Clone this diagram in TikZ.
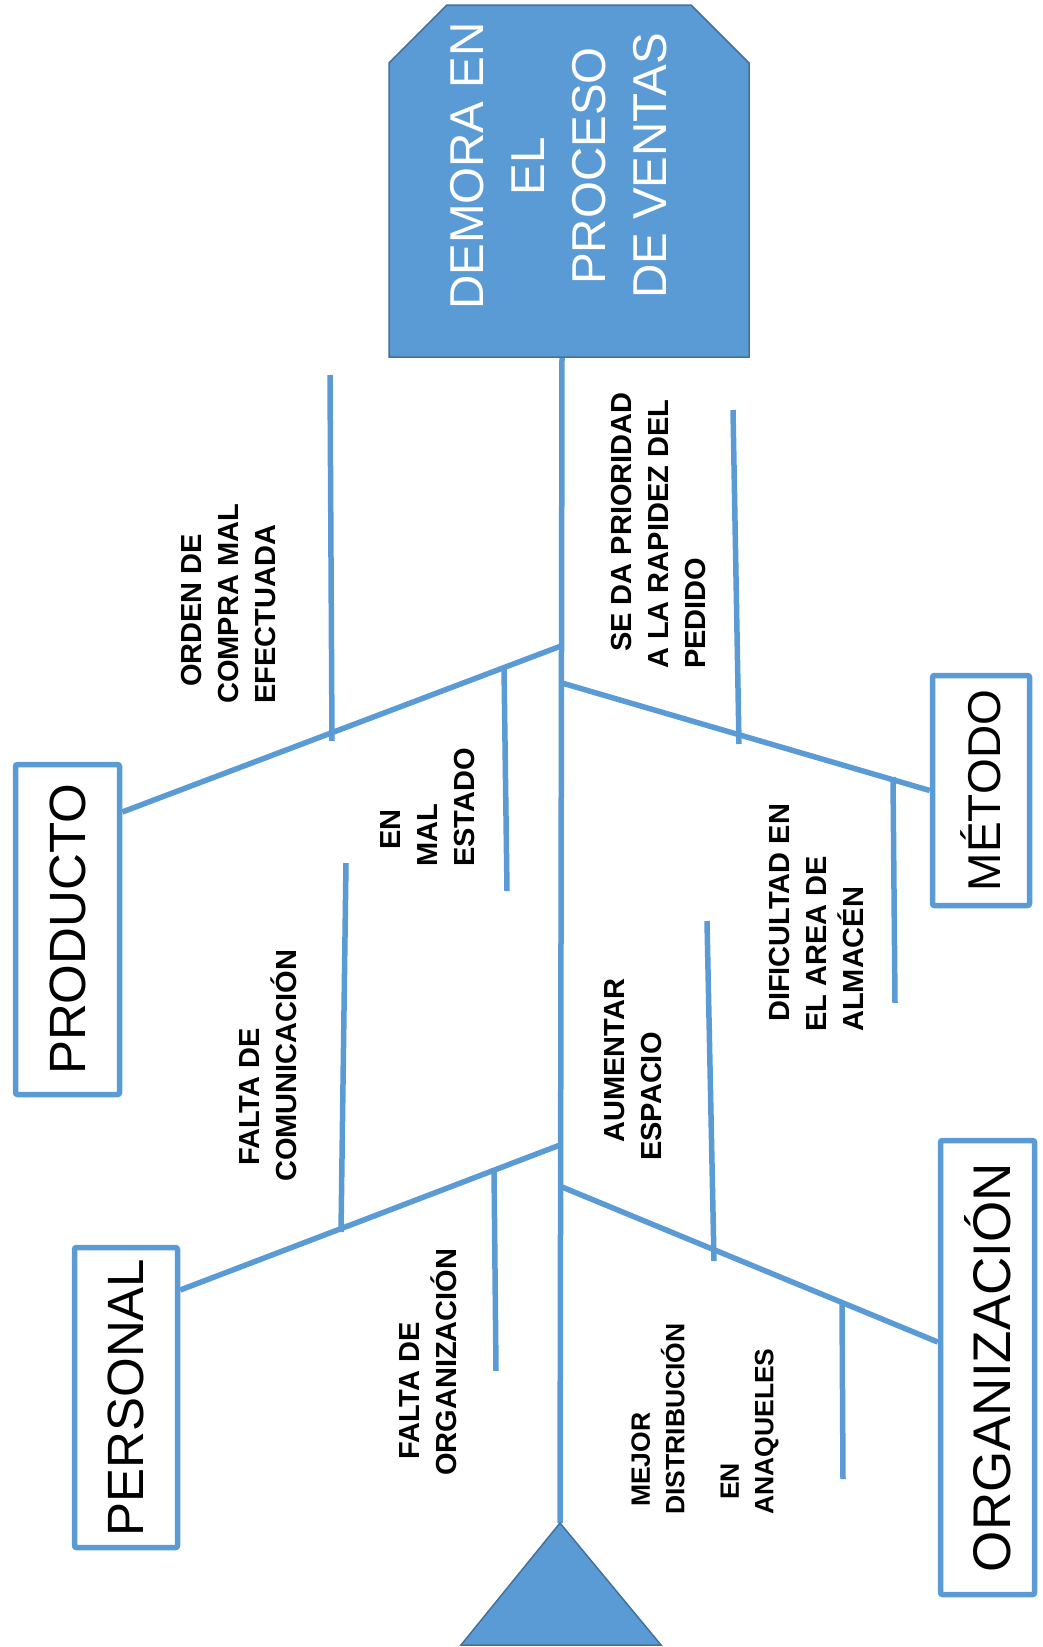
\documentclass[tikz,border=0pt]{standalone}
\usepackage{fontspec}
\setmainfont{Liberation Sans}
\usetikzlibrary{backgrounds}
\definecolor{lineblue}{HTML}{5B9BD5}
\definecolor{edgeblue}{HTML}{41719C}

\begin{document}
\begin{tikzpicture}[x=1pt,y=-1pt,
  bone/.style={draw=lineblue, line width=5.5pt},
  catbox/.style={draw=lineblue, line width=5.5pt, rounded corners=2pt, inner sep=0pt, fill=white,
                 font=\fontsize{51}{60}\selectfont},
  cause/.style={rotate=90, anchor=west, align=left, inner sep=0pt,
                font=\bfseries\fontsize{29}{37}\selectfont},
  headtext/.style={rotate=90, align=center, inner sep=0pt, text=white,
                   font=\fontsize{47.5}{61}\selectfont}]
\useasboundingbox (0,0) rectangle (1042,1647);

% junctions on the spine and the ends of the ribs
\coordinate (spinetop) at (562,357);
\coordinate (tail) at (560,1523);
\coordinate (jP)  at (561,646);
\coordinate (jM)  at (562,683);
\coordinate (jPe) at (560,1145);
\coordinate (jO)  at (562,1187);

\coordinate (rOrdenTop) at (330,375);  \coordinate (rOrdenEnd) at (332,741);
\coordinate (rMalTop)   at (504,667);  \coordinate (rMalEnd)   at (507,891);
\coordinate (rPrioTop)  at (733,410);  \coordinate (rPrioEnd)  at (739,744);
\coordinate (rDifTop)   at (893,777);  \coordinate (rDifEnd)   at (895,1003);
\coordinate (rComTop)   at (346,863);  \coordinate (rComEnd)   at (341,1232);
\coordinate (rOrgTop)   at (494,1168); \coordinate (rOrgEnd)   at (496,1371);
\coordinate (rEspTop)   at (707,921);  \coordinate (rEspEnd)   at (714,1261);
\coordinate (rAnaTop)   at (842,1302); \coordinate (rAnaEnd)   at (843,1479);

% category boxes
\node[catbox, minimum width=104pt, minimum height=330pt] (prod) at (67.5,929.5) {\rotatebox{90}{PRODUCTO}};
\node[catbox, minimum width=97pt,  minimum height=230pt, font=\fontsize{46}{56}\selectfont] (met) at (981,790.5) {\rotatebox{90}{MÉTODO}};
\node[catbox, minimum width=103pt, minimum height=300pt] (pers) at (126,1397.5) {\rotatebox{90}{PERSONAL}};
\node[catbox, minimum width=94pt,  minimum height=454pt, font=\fontsize{53}{62}\selectfont] (org) at (987.5,1367.5) {\rotatebox{90}{ORGANIZACIÓN}};

% causes
\node[cause] (lOrden) at (229,704)  {\hspace*{17pt}ORDEN DE\\COMPRA MAL\\EFECTUADA};
\node[cause] (lMal)   at (428,867)  {\hspace*{17pt}EN\\MAL\\ESTADO};
\node[cause] (lPrio)  at (659,669)  {\hspace*{17pt}SE DA PRIORIDAD\\A LA RAPIDEZ DEL\\PEDIDO};
\node[cause] (lDif)   at (817,1032) {\hspace*{10pt}DIFICULTAD EN\\EL AREA DE\\ALMACÉN};
\node[cause] (lEsp)   at (633,1161) {\hspace*{18pt}AUMENTAR\\ESPACIO};
\node[cause] (lCom)   at (268,1182) {\hspace*{16pt}FALTA DE\\COMUNICACIÓN};
\node[cause] (lOrg)   at (428,1476) {\hspace*{16pt}FALTA DE\\ORGANIZACIÓN};
\node[cause, font=\bfseries\fontsize{26.5}{34.5}\selectfont] (lAna) at (705,1515)
  {\hspace*{8pt}MEJOR\\DISTRIBUCIÓN\\[20pt]\hspace*{15pt}EN\\ANAQUELES};

% effect text
\node[headtext] (head) at (558.5,166) {DEMORA EN\\EL\\PROCESO\\DE VENTAS};

\begin{scope}[on background layer]
  % spine, main bones and ribs
  \draw[bone] (spinetop) -- (tail);
  \draw[bone] (jP)  -- ([yshift=117.5pt]prod.east);
  \draw[bone] (jM)  -- (met.west);
  \draw[bone] (jPe) -- ([yshift=107.5pt]pers.east);
  \draw[bone] (jO)  -- ([yshift=25.5pt]org.west);
  \draw[bone] (rOrdenTop) -- (rOrdenEnd);
  \draw[bone] (rMalTop)   -- (rMalEnd);
  \draw[bone] (rPrioTop)  -- (rPrioEnd);
  \draw[bone] (rDifTop)   -- (rDifEnd);
  \draw[bone] (rComTop)   -- (rComEnd);
  \draw[bone] (rOrgTop)   -- (rOrgEnd);
  \draw[bone] (rEspTop)   -- (rEspEnd);
  \draw[bone] (rAnaTop)   -- (rAnaEnd);
  % head and tail of the fish
  \filldraw[fill=lineblue, draw=edgeblue, line width=1.5pt]
    (389,357) -- (389,63) -- (447,5) -- (691,5) -- (749,63) -- (749,357) -- cycle;
  \filldraw[fill=lineblue, draw=edgeblue, line width=1.5pt]
    (tail) -- (661,1645) -- (461,1645) -- cycle;
\end{scope}
\end{tikzpicture}
\end{document}
